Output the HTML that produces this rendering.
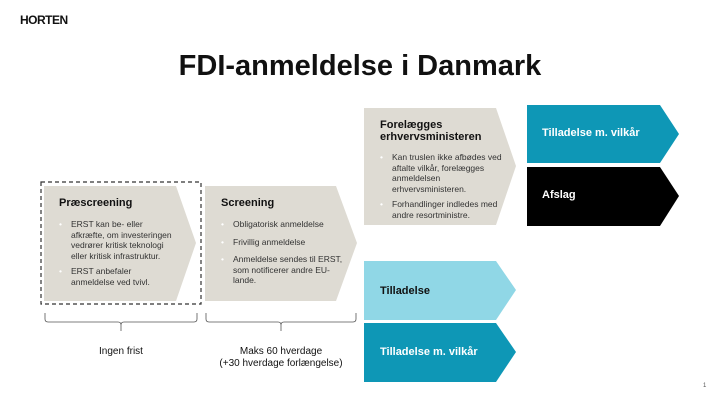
<!DOCTYPE html>
<html><head><meta charset="utf-8"><style>
body{margin:0;width:720px;height:405px;background:#fff;position:relative;overflow:hidden;font-family:"Liberation Sans",sans-serif}
.a{position:absolute}
.t{position:absolute;font-size:8.5px;color:#333;line-height:10.5px;white-space:nowrap}
.h{position:absolute;font-weight:bold;font-size:11px;color:#111}
ul{margin:0;padding:0;list-style:none}
li{position:relative;padding-left:12px;margin-bottom:5px}
li:before{content:"•";position:absolute;left:0;color:#fff}
</style></head><body>
<div class="a" style="left:20px;top:13px;font-weight:900;font-size:12px;letter-spacing:-0.5px;color:#111">HORTEN</div>
<div class="a" style="left:0;width:720px;top:50px;text-align:center;font-weight:bold;font-size:29px;color:#111">FDI-anmeldelse i Danmark</div>
<svg class="a" style="left:0;top:0" width="720" height="405">
<polygon points="44,186 176,186 196,243 176,301 44,301" fill="#dedbd3"/>
<rect x="41" y="182" width="160" height="122" fill="none" stroke="#333" stroke-width="1.2" stroke-dasharray="4,3"/>
<polygon points="205,186 336,186 357,243 336,301 205,301" fill="#dedbd3"/>
<polygon points="364,108 496,108 516,166 496,225 364,225" fill="#dedbd3"/>
<polygon points="527,105 660,105 679,134 660,163 527,163" fill="#0e97b6"/>
<polygon points="527,167 660,167 679,196 660,226 527,226" fill="#000"/>
<polygon points="364,261 496,261 516,290 496,320 364,320" fill="#90d7e6"/>
<polygon points="364,323 496,323 516,352 496,382 364,382" fill="#0e97b6"/>
<g fill="none" stroke="#555" stroke-width="0.8">
<path d="M45,313 v6 q0,3 3,3 h70 q3,0 3,3 v6 M121,331 v-6 q0,-3 3,-3 h70 q3,0 3,-3 v-6"/>
<path d="M206,313 v6 q0,3 3,3 h69 q3,0 3,3 v6 M281,331 v-6 q0,-3 3,-3 h69 q3,0 3,-3 v-6"/>
</g>
</svg>
<div class="h" style="left:59px;top:197px">Præscreening</div>
<div class="t" style="left:59px;top:219px"><ul><li>ERST kan be- eller<br>afkræfte, om investeringen<br>vedrører kritisk teknologi<br>eller kritisk infrastruktur.</li><li>ERST anbefaler<br>anmeldelse ved tvivl.</li></ul></div>
<div class="h" style="left:221px;top:197px">Screening</div>
<div class="t" style="left:221px;top:219px"><ul><li style="margin-bottom:7px">Obligatorisk anmeldelse</li><li style="margin-bottom:7px">Frivillig anmeldelse</li><li>Anmeldelse sendes til ERST,<br>som notificerer andre EU-<br>lande.</li></ul></div>
<div class="h" style="left:380px;top:119px;line-height:12px">Forelægges<br>erhvervsministeren</div>
<div class="t" style="left:380px;top:152px"><ul><li>Kan truslen ikke afbødes ved<br>aftalte vilkår, forelægges<br>anmeldelsen<br>erhvervsministeren.</li><li>Forhandlinger indledes med<br>andre resortministre.</li></ul></div>
<div class="h" style="left:542px;top:127px;color:#fff">Tilladelse m. vilkår</div>
<div class="h" style="left:542px;top:189px;color:#fff">Afslag</div>
<div class="h" style="left:380px;top:285px">Tilladelse</div>
<div class="h" style="left:380px;top:346px;color:#fff">Tilladelse m. vilkår</div>
<div class="a" style="left:61px;width:120px;top:346px;text-align:center;font-size:10px;color:#111">Ingen frist</div>
<div class="a" style="left:201px;width:160px;top:346px;text-align:center;font-size:10px;color:#111;line-height:12px">Maks 60 hverdage<br>(+30 hverdage forlængelse)</div>
<div class="a" style="left:703px;top:383px;font-size:6px;color:#555">1</div>
</body></html>
